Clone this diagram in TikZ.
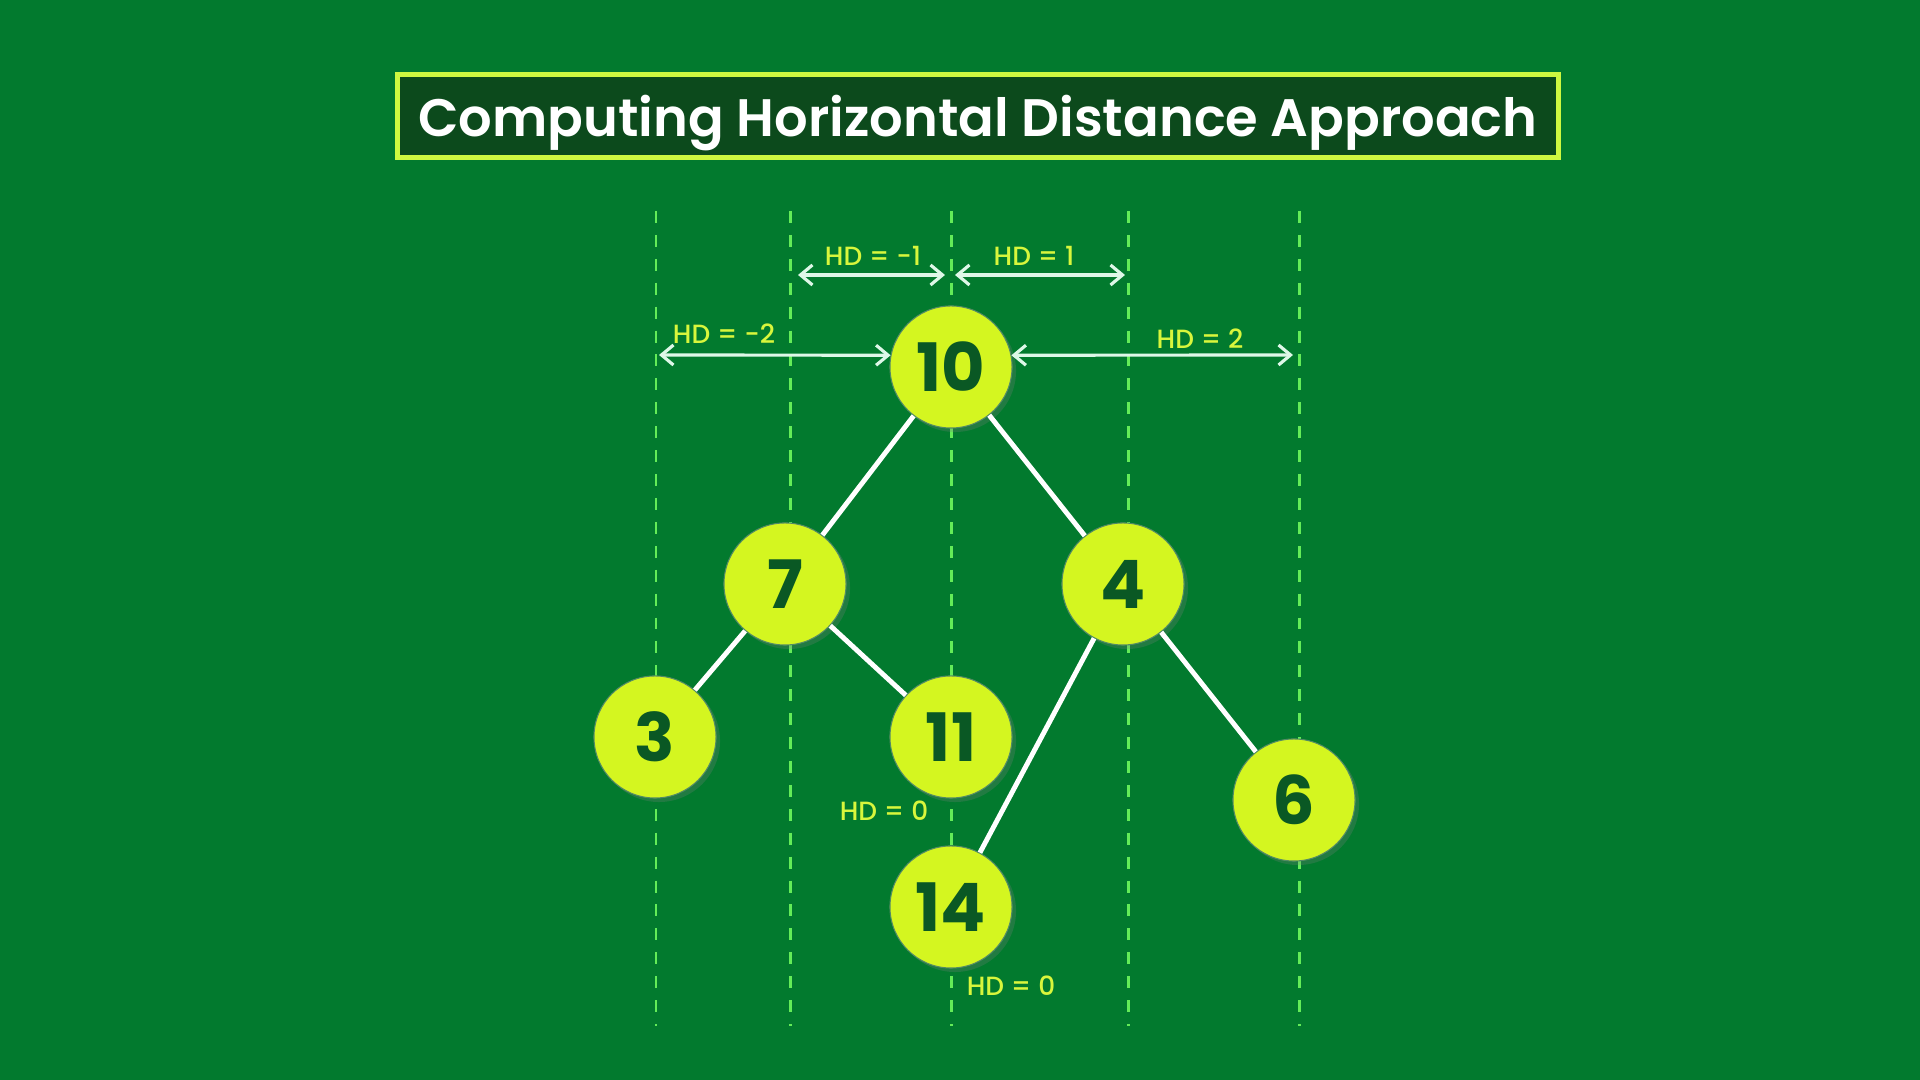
\documentclass[tikz,border=0pt]{standalone}
\usepackage{fontspec}
\setmainfont{Poppins}
\newfontfamily\titlefont{Poppins SemiBold}
\newfontfamily\labelfont{Poppins Medium}
\usepackage{tikz}
\usetikzlibrary{arrows.meta,shadows}

\definecolor{bggreen}{RGB}{2,122,46}
\definecolor{titlebg}{RGB}{12,74,28}
\definecolor{lime}{RGB}{212,246,32}
\definecolor{limeline}{RGB}{206,248,64}
\definecolor{darkgreen}{RGB}{10,88,36}
\definecolor{dashgreen}{RGB}{100,236,88}
\definecolor{mint}{RGB}{222,248,232}
\definecolor{hdtext}{RGB}{216,246,60}

\begin{document}
\begin{tikzpicture}[
    x=0.01cm, y=-0.01cm,
    treenode/.style={circle, fill=lime, draw=darkgreen!70, line width=0.3pt,
        minimum size=1.22cm, inner sep=0pt, text=darkgreen,
        font=\fontsize{19}{20}\selectfont\bfseries,
        drop shadow={opacity=0.25, shadow xshift=0.04cm, shadow yshift=-0.04cm}},
    edge/.style={draw=white, line width=1.4pt},
    hdline/.style={draw=dashgreen, line width=0.85pt, dash pattern=on 3.4pt off 3.4pt},
    hdarrow/.style={{Straight Barb[length=1.2mm,width=2mm]}-{Straight Barb[length=1.2mm,width=2mm]}, draw=mint, line width=0.9pt},
    hdlabel/.style={text=hdtext, font=\labelfont\fontsize{7.5}{8}\selectfont, inner sep=1pt},
    titlebox/.style={rectangle, fill=titlebg, draw=limeline, line width=1.4pt,
        minimum width=11.6cm, minimum height=0.83cm, text=white, text depth=0pt,
        font=\titlefont\fontsize{15}{18}\selectfont}
]
\fill[bggreen] (0,0) rectangle (1920,1080);

\node[titlebox] (title) at (978,116) {Computing Horizontal Distance Approach};

% vertical distance lines
\foreach \x in {656,790,951,1128,1299}
    \draw[hdline] (\x,211) -- (\x,1026);

\node[treenode] (n10) at (951,367) {10};
\node[treenode] (n7) at (785,584) {7};
\node[treenode] (n4) at (1123,584) {4};
\node[treenode] (n3) at (655,737) {3};
\node[treenode] (n11) at (951,737) {11};
\node[treenode] (n6) at (1294,800) {6};
\node[treenode] (n14) at (951,907) {14};

\draw[edge] (n10) -- (n7);
\draw[edge] (n10) -- (n4);
\draw[edge] (n7) -- (n3);
\draw[edge] (n7) -- (n11);
\draw[edge] (n4) -- (n14);
\draw[edge] (n4) -- (n6);

% distance arrows
\coordinate (m1l) at (798,275);
\coordinate (m1r) at (945,275);
\coordinate (p1l) at (955,275);
\coordinate (p1r) at (1125,275);
\coordinate (m2l) at (659,355);
\coordinate (p2r) at (1293,355);

\draw[hdarrow] (m1l) -- (m1r);
\draw[hdarrow] (p1l) -- (p1r);
\draw[hdarrow] (m2l) -- (n10.169);
\draw[hdarrow] (n10.11) -- (p2r);

\node[hdlabel] (lm1) at (873,256) {HD = -1};
\node[hdlabel] (lp1) at (1034,256) {HD = 1};
\node[hdlabel] (lm2) at (724,334) {HD = -2};
\node[hdlabel] (lp2) at (1200,339) {HD = 2};
\node[hdlabel] (l11) at (884,811) {HD = 0};
\node[hdlabel] (l14) at (1011,986) {HD = 0};
\end{tikzpicture}
\end{document}
